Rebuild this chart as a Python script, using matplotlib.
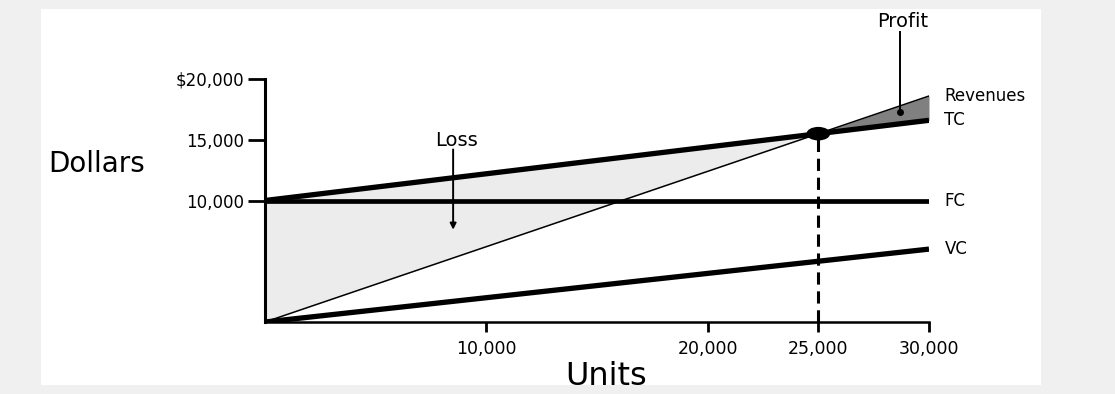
import numpy as np
import matplotlib.pyplot as plt
from matplotlib.patches import Ellipse, Rectangle

# Break-even chart values (units sold vs dollars)
units = [0, 30000]
revenues = [0, 18600]
total_cost = [10000, 16600]
fixed_cost = [10000, 10000]
variable_cost = [0, 6000]
break_even = (25000, 15500)

y_ticks = [10000, 15000, 20000]
y_tick_labels = ['10,000', '15,000', '$20,000']
x_ticks = [10000, 20000, 25000, 30000]
x_tick_labels = ['10,000', '20,000', '25,000', '30,000']

plt.rcParams['font.family'] = ['DejaVu Sans']

fig = plt.figure(figsize=(11.15, 3.94), dpi=100)
fig.patch.set_facecolor('white')

# grey paper edges
for rect in [(0, 0, 0.037, 1), (0.934, 0, 0.066, 1), (0, 0.978, 1, 0.022), (0, 0, 1, 0.022)]:
    fig.patches.append(Rectangle(rect[:2], rect[2], rect[3], transform=fig.transFigure,
                                 facecolor='#f0f0f0', edgecolor='none', zorder=0))

ax = fig.add_axes([265 / 1115, 72 / 394, 664 / 1115, 243 / 394])
ax.set_facecolor('none')
ax.set_xlim(0, 30000)
ax.set_ylim(0, 20000)

# shaded loss and profit areas between revenue and total cost
xs_loss = np.array([0, break_even[0]])
xs_profit = np.array([break_even[0], 30000])
ax.fill_between(xs_loss, np.interp(xs_loss, units, revenues), np.interp(xs_loss, units, total_cost),
                color='#ececec', lw=0, zorder=1)
ax.fill_between(xs_profit, np.interp(xs_profit, units, total_cost), np.interp(xs_profit, units, revenues),
                color='#808080', lw=0, zorder=1)

ax.plot(units, revenues, color='black', lw=1.1, zorder=3)
ax.plot(units, total_cost, color='black', lw=3.8, solid_capstyle='butt', zorder=3)
ax.plot(units, fixed_cost, color='black', lw=3.4, solid_capstyle='butt', zorder=3)
ax.plot(units, variable_cost, color='black', lw=3.8, solid_capstyle='butt', zorder=3)

# break-even point and drop line
ax.plot([break_even[0], break_even[0]], [0, break_even[1]], color='black', lw=2.2,
        dashes=(4, 2.2), zorder=2)
ax.add_patch(Ellipse(break_even, 1000, 1000, color='black', zorder=4))

# line labels
for name, vals in [('Revenues', revenues), ('TC', total_cost), ('FC', fixed_cost), ('VC', variable_cost)]:
    ax.text(30700, vals[-1], name, fontsize=12, va='center', ha='left', clip_on=False)

# loss / profit callouts
ax.text(8650, 14950, 'Loss', fontsize=14, ha='center', va='center')
ax.annotate('', xy=(8500, 7600), xytext=(8500, 14200),
            arrowprops=dict(arrowstyle='-|>', lw=1.4, color='black', mutation_scale=9,
                            shrinkA=0, shrinkB=0))
ax.text(28800, 24750, 'Profit', fontsize=14, ha='center', va='center', clip_on=False)
ax.plot([28700, 28700], [23900, 17300], color='black', lw=1.4, clip_on=False, zorder=5)
ax.plot([28700], [17300], 'o', color='black', ms=4, zorder=5)

# axes styling
for side in ['top', 'right']:
    ax.spines[side].set_visible(False)
ax.spines['left'].set_linewidth(2.2)
ax.spines['bottom'].set_linewidth(1.8)
ax.set_yticks(y_ticks)
ax.set_yticklabels(y_tick_labels, fontsize=12)
ax.set_xticks(x_ticks)
ax.set_xticklabels(x_tick_labels, fontsize=12.5)
ax.tick_params(axis='y', length=12, width=2, pad=3)
ax.tick_params(axis='x', length=7, width=2, pad=6)

ax.text(-7600, 13000, 'Dollars', fontsize=20, ha='center', va='center', clip_on=False)
ax.text(15400, -4450, 'Units', fontsize=23, ha='center', va='center', clip_on=False)

fig.savefig('out.png', dpi=100)
